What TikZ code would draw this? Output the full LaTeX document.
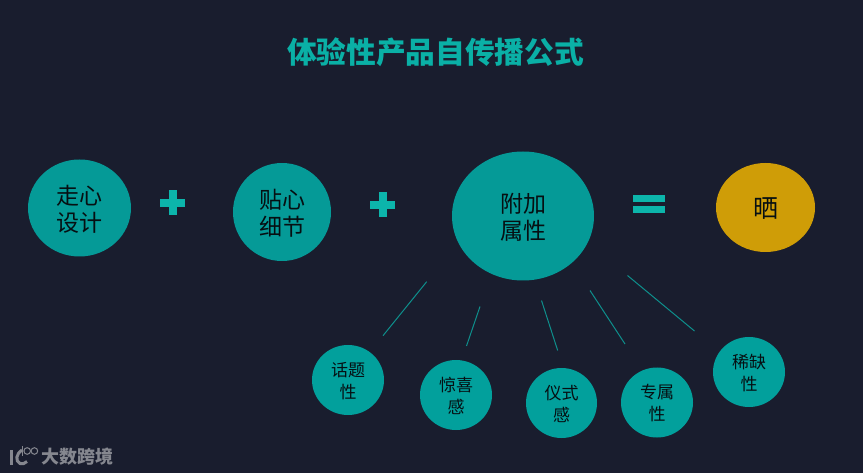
\documentclass[tikz,border=0pt]{standalone}
\usepackage{fontspec}
\usetikzlibrary{shapes.geometric}
\setmainfont{Noto Sans CJK SC}
\definecolor{bg}{HTML}{191D2E}
\definecolor{tealbig}{HTML}{059A97}
\definecolor{tealsmall}{HTML}{02A09C}
\definecolor{gold}{HTML}{CF9D07}
\definecolor{sign}{HTML}{0CB5AB}
\definecolor{titlecol}{HTML}{0AB0A6}
\definecolor{linecol}{HTML}{0E8F8C}
\definecolor{logocol}{HTML}{85878F}
\definecolor{ink}{HTML}{060F12}
\tikzset{
  bubble/.style={ellipse,fill=tealbig,inner sep=0pt,align=center,text=ink,text depth=0pt,font=\fontsize{23}{27}\selectfont},
  subbubble/.style={bubble,fill=tealsmall,minimum width=72pt,minimum height=70pt,font=\fontsize{17}{22}\selectfont},
  spoke/.style={draw=linecol,line width=1pt},
  signbar/.style={fill=sign,inner sep=0pt},
}
\begin{document}
\begin{tikzpicture}[x=1pt,y=-1pt]
\fill[bg] (0,0) rectangle (863,473);
\useasboundingbox (0,0) rectangle (863,473);
\node[text=titlecol,font=\fontsize{29.7}{36}\selectfont\bfseries] (title) at (435.5,52.5) {体验性产品自传播公式};
% top row
\node[bubble,minimum width=103pt,minimum height=97pt] (walk) at (79.5,208) {走心\\设计};
\node[bubble,minimum width=98pt,minimum height=98pt] (detail) at (282,212) {贴心\\细节};
\node[bubble,minimum width=142pt,minimum height=129pt] (extra) at (523,216) {附加\\属性};
\node[bubble,fill=gold,minimum width=99pt,minimum height=89pt,font=\fontsize{25}{27}\selectfont] (show) at (765.5,207.5) {晒};
% signs
\node[signbar,minimum width=25pt,minimum height=8pt] (plusa) at (172.5,203) {};
\node[signbar,minimum width=8pt,minimum height=25pt] at (plusa) {};
\node[signbar,minimum width=25pt,minimum height=8pt] (plusb) at (382.5,205) {};
\node[signbar,minimum width=8pt,minimum height=25pt] at (plusb) {};
\node[signbar,minimum width=32pt,minimum height=7pt] (eqa) at (649,198.5) {};
\node[signbar,minimum width=32pt,minimum height=7pt] (eqb) at (649,209.5) {};
% bottom row
\node[subbubble] (topic) at (348,380) {话题\\性};
\node[subbubble] (surprise) at (456,395) {惊喜\\感};
\node[subbubble,minimum width=71pt] (ritual) at (561.5,403) {仪式\\感};
\node[subbubble] (own) at (657,402.5) {专属\\性};
\node[subbubble] (rare) at (749,372) {稀缺\\性};
% spokes
\coordinate (sa) at (426.7,281.7); \coordinate (ta) at (383,335.7);
\coordinate (sb) at (480,306.5); \coordinate (tb) at (466.5,346);
\coordinate (sc) at (541.5,300.5); \coordinate (tc) at (557.7,350.5);
\coordinate (sd) at (590,290.5); \coordinate (td) at (625,344);
\coordinate (se) at (627.5,275.5); \coordinate (te) at (694.5,331);
\draw[spoke] (sa)--(ta); \draw[spoke] (sb)--(tb); \draw[spoke] (sc)--(tc);
\draw[spoke] (sd)--(td); \draw[spoke] (se)--(te);
% logo
\node[text=logocol,font=\fontsize{18}{20}\selectfont\bfseries] (brand) at (77.5,457) {大数跨境};
\draw[logocol,line width=3pt] (11,450)--(11,465);
\draw[logocol,line width=3pt] (22,450) .. controls (16,454) and (15,461) .. (20,463.5) .. controls (22,464.5) and (25,463.5) .. (27,461.5);
\draw[logocol,line width=1pt] (22.3,446)--(22.3,456);
\draw[logocol,line width=1pt] (27.2,451) circle (3.3);
\draw[logocol,line width=1pt] (34.4,451) circle (3.3);
\end{tikzpicture}
\end{document}
